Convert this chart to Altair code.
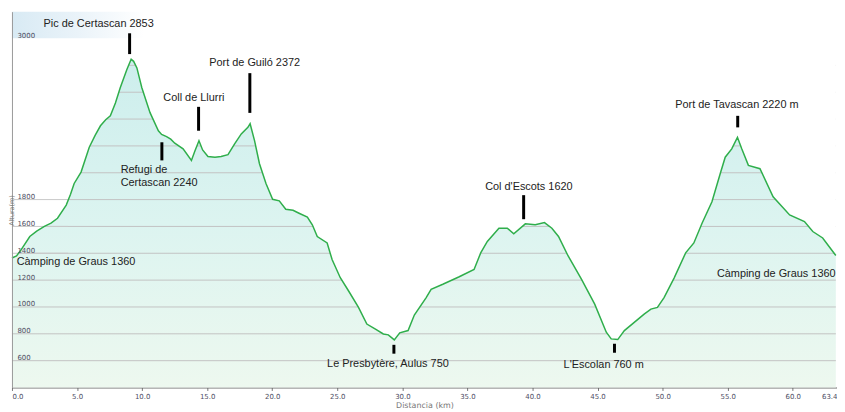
import altair as alt
import pandas as pd

# ---- profile data (distance km, altitude m) ----
km = [0.00, 0.35, 0.71, 1.37, 1.90, 2.49, 3.00, 3.50, 4.17, 4.50, 4.78, 5.31, 5.94, 6.40, 6.80,
      7.20, 7.56, 7.95, 8.32, 8.83, 9.16, 9.35, 9.60, 9.98, 10.61, 11.25, 11.50, 11.88, 12.20,
      12.51, 13.15, 13.79, 14.05, 14.37, 14.65, 15.06, 15.60, 16.07, 16.60, 17.11, 17.62, 18.13,
      18.30, 18.64, 19.02, 19.52, 20.03, 20.54, 21.04, 21.60, 22.06, 22.70, 23.08, 23.46, 24.22,
      24.60, 25.23, 25.87, 26.63, 27.27, 27.90, 28.54, 28.92, 29.38, 29.80, 30.44, 30.92, 31.83,
      32.21, 33.11, 34.37, 35.51, 36.02, 36.53, 37.42, 38.06, 38.56, 39.45, 40.21, 40.92, 41.49,
      42.00, 42.75, 43.77, 44.78, 45.67, 46.05, 46.55, 47.06, 48.58, 49.10, 49.60, 50.11, 50.88,
      51.77, 52.40, 53.03, 53.79, 54.43, 54.81, 55.31, 55.75, 56.08, 56.59, 57.48, 58.49, 59.76,
      60.90, 61.54, 62.30, 63.31]
elev = [1365, 1380, 1427, 1525, 1565, 1600, 1625, 1661, 1759, 1840, 1920, 2005, 2190, 2280, 2350,
        2395, 2424, 2520, 2633, 2769, 2845, 2830, 2781, 2633, 2448, 2313, 2285, 2269, 2250,
        2220, 2178, 2092, 2160, 2239, 2170, 2121, 2115, 2121, 2135, 2215, 2289, 2338,
        2365, 2239, 2067, 1920, 1802, 1791, 1728, 1720, 1698, 1669, 1612, 1525, 1477,
        1353, 1218, 1119, 997, 873, 836, 799, 792, 755, 807, 824, 940, 1070,
        1132, 1169, 1225, 1279, 1403, 1488, 1587, 1587, 1545, 1619, 1612, 1629, 1587,
        1525, 1378, 1206, 1021, 812, 762, 757, 824, 947, 984, 997, 1070, 1215,
        1403, 1477, 1624, 1784, 1994, 2116, 2178, 2264, 2178, 2055, 2030, 1821, 1686,
        1636, 1562, 1514, 1383]

# axis ticks
y_ticks = [600, 800, 1000, 1200, 1400, 1600, 1800, 2000, 2200, 2400, 2600, 2800, 3000]
x_ticks = [0, 5, 10, 15, 20, 25, 30, 35, 40, 45, 50, 55, 60, 63.4]
grid_levels = [600, 800, 1000, 1200, 1400, 1600, 1800, 2000, 2200, 2400, 2600, 2800]
left_grid_levels = [1400, 1600, 1800]

# annotation markers: position km, bar bottom / top altitude
mark_km = [9.04, 14.34, 18.28, 11.52, 39.32, 29.35, 46.30, 55.77]
mark_lo = [2884, 2313, 2446, 2092, 1654, 652, 659, 2338]
mark_hi = [3039, 2491, 2742, 2227, 1833, 718, 726, 2424]

# centred labels
lab_text = ["Pic de Certascan 2853", "Coll de Llurri", "Port de Guiló 2372",
            "Col d'Escots 1620", "Le Presbytère, Aulus 750", "L'Escolan 760 m",
            "Port de Tavascan 2220 m"]
lab_km = [6.66, 13.98, 18.65, 39.72, 28.89, 45.47, 55.71]
lab_elev = [3106, 2557, 2818, 1890, 578, 565, 2503]

# left-aligned labels
left_text = ["Refugi de", "Certascan 2240", "Càmping de Graus 1360"]
left_km = [8.35, 8.35, 0.36]
left_elev = [2023, 1927, 1333]

# right-aligned labels
right_text = ["Càmping de Graus 1360"]
right_km = [63.29]
right_elev = [1242]

XMAX = 63.4
YMIN, YMAX = 400, 3200

prof = pd.DataFrame({"km": km, "elev": elev})
grid = pd.DataFrame({"elev": grid_levels, "km": [0] * len(grid_levels),
                     "km2": [km[-1]] * len(grid_levels)})
lgrid = pd.DataFrame({"elev": left_grid_levels, "km": [0] * 3, "km2": [4.3] * 3})
bars = pd.DataFrame({"km": mark_km, "elev": mark_lo, "elev2": mark_hi})
labs = pd.DataFrame({"km": lab_km, "elev": lab_elev, "t": lab_text})
llabs = pd.DataFrame({"km": left_km, "elev": left_elev, "t": left_text})
rlabs = pd.DataFrame({"km": right_km, "elev": right_elev, "t": right_text})
sky = pd.DataFrame({"km": [0], "km2": [XMAX], "elev": [3000], "elev2": [YMAX]})

xs = alt.Scale(domain=[0, XMAX], nice=False, zero=False)
ys = alt.Scale(domain=[YMIN, YMAX], nice=False, zero=False)

x_axis = alt.Axis(values=x_ticks, format=".1f", labelFontSize=7, labelColor="#4d4d63",
                  labelFont="DejaVu Sans", tickSize=3, tickColor="#777", domainColor="#666",
                  labelPadding=2, grid=False, title="Distancia (km)", titleFontSize=8,
                  titleFont="DejaVu Sans", titleColor="#777", titleFontWeight="normal",
                  titlePadding=2, labelFlush=True)
y_axis = alt.Axis(values=y_ticks, format="d",
                  labelExpr="(datum.value >= 2000 && datum.value <= 2800) ? '' : datum.label",
                  labelFontSize=7, labelColor="#4d4d63", labelFont="DejaVu Sans",
                  labelAlign="left", labelBaseline="bottom", labelPadding=-5, ticks=False,
                  tickSize=0, domainColor="#999", grid=False, zindex=1,
                  title="Altura(m)", titleFontSize=6.5, titleFont="DejaVu Sans", titleColor="#777",
                  titleFontWeight="normal", titleX=0, titleY=200, titleBaseline="middle")

X = alt.X("km:Q", scale=xs, axis=x_axis)
Y = alt.Y("elev:Q", scale=ys, axis=y_axis)

sky_layer = alt.Chart(sky).mark_rect(
    color=alt.Gradient(gradient="linear", x1=0, x2=1, y1=0, y2=0,
                       stops=[alt.GradientStop(color="#d8eaf4", offset=0),
                              alt.GradientStop(color="#eaf3f9", offset=0.08),
                              alt.GradientStop(color="#ffffff", offset=0.16)])
).encode(x=X, x2="km2:Q", y=Y, y2="elev2:Q")

fill_layer = alt.Chart(prof).mark_area(
    color=alt.Gradient(gradient="linear", x1=0, x2=0, y1=0, y2=1,
                       stops=[alt.GradientStop(color="#cdeeed", offset=0),
                              alt.GradientStop(color="#dcf4f0", offset=0.5),
                              alt.GradientStop(color="#edf8ef", offset=1)])
).encode(x=X, y=Y, y2=alt.datum(YMIN))

grid_layer = alt.Chart(grid).mark_rule(color="#c2c2c2", strokeWidth=1).encode(
    x=X, x2="km2:Q", y=Y)

cover_layer = alt.Chart(prof).mark_area(color="#ffffff").encode(x=X, y=Y, y2=alt.datum(3000))

lgrid_layer = alt.Chart(lgrid).mark_rule(color="#c8c8c8", strokeWidth=1).encode(
    x=X, x2="km2:Q", y=Y)

line_layer = alt.Chart(prof).mark_line(color="#2fae4b", strokeWidth=1.5).encode(x=X, y=Y)

bar_layer = alt.Chart(bars).mark_rule(color="#000000", strokeWidth=3, strokeCap="butt").encode(
    x=X, y=Y, y2="elev2:Q")

txt_font = "Liberation Sans"
lab_layer = alt.Chart(labs).mark_text(align="center", baseline="middle", fontSize=11,
                                      font=txt_font, color="#222222").encode(x=X, y=Y, text="t:N")
llab_layer = alt.Chart(llabs).mark_text(align="left", baseline="middle", fontSize=11,
                                        font=txt_font, color="#222222").encode(x=X, y=Y, text="t:N")
rlab_layer = alt.Chart(rlabs).mark_text(align="right", baseline="middle", fontSize=11,
                                        font=txt_font, color="#222222").encode(x=X, y=Y, text="t:N")

chart = alt.layer(
    sky_layer, fill_layer, grid_layer, cover_layer, lgrid_layer, line_layer,
    bar_layer, lab_layer, llab_layer, rlab_layer
).properties(
    width=832, height=379,
    autosize=alt.AutoSizeParams(type="none"),
    padding={"left": 4, "top": 2, "right": 0, "bottom": 23},
    background="white",
).configure_view(stroke=None)

chart.save("out.html", embed_options={"renderer": "svg", "actions": False})
